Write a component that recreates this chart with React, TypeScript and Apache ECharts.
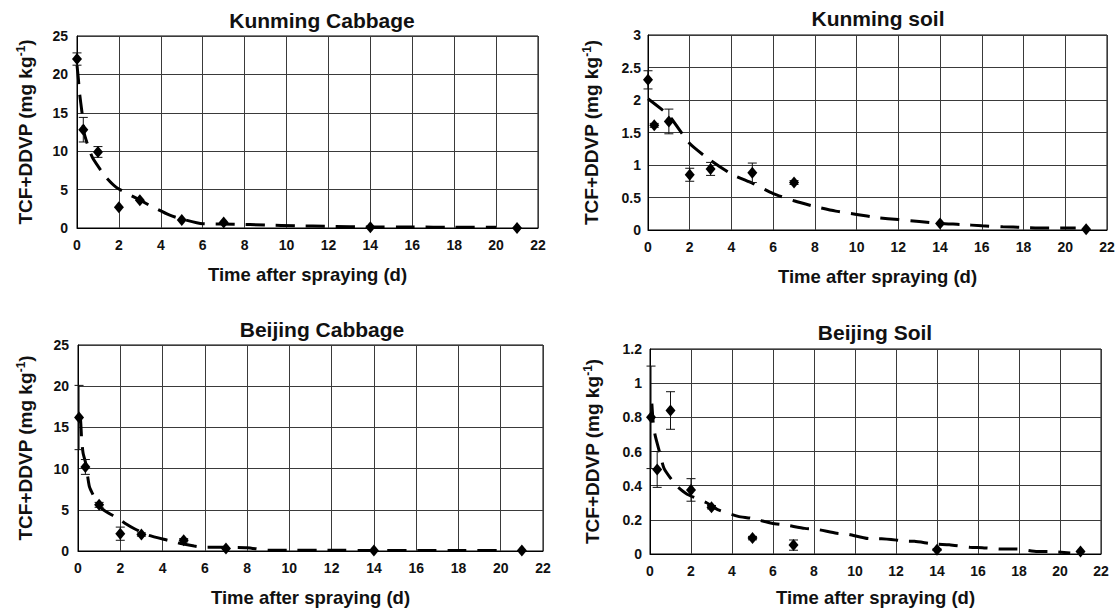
import React, { useEffect, useRef } from "react";
import * as echarts from "echarts";

// ---------- data ----------
const xTicks = [0, 2, 4, 6, 8, 10, 12, 14, 16, 18, 20, 22];

const panelTitles = ["Kunming Cabbage", "Kunming soil", "Beijing Cabbage", "Beijing Soil"];

// Kunming Cabbage
const kcDays = [0, 0.3, 1, 2, 3, 5, 7, 14, 21];
const kcMean = [22.0, 12.8, 9.9, 2.7, 3.6, 1.05, 0.7, 0.1, 0.0];
const kcErr = [0.8, 1.6, 0.7, 0, 0, 0, 0, 0, 0];
const kcFitX = [0, 0.07, 0.12, 0.24, 0.34, 0.5, 0.75, 1.4, 1.9, 3.1, 3.5, 4.4, 4.9, 6, 7.5, 9, 10.5, 12, 14, 16, 18, 20];
const kcFitY = [21.2, 19.3, 17.6, 15, 12.4, 10.9, 9.1, 6.55, 5.25, 3.5, 2.9, 1.7, 1.25, 0.55, 0.5, 0.4, 0.28, 0.22, 0.13, 0.13, 0.09, 0.09];

// Kunming soil
const ksDays = [0, 0.3, 1, 2, 3, 5, 7, 14, 21];
const ksMean = [2.31, 1.61, 1.67, 0.85, 0.94, 0.88, 0.73, 0.1, 0.01];
const ksErr = [0.14, 0.03, 0.19, 0.1, 0.1, 0.15, 0.03, 0, 0];
const ksFitX = [0, 1, 2, 3, 4, 5, 6, 7, 8, 9, 10, 11, 12, 13, 14, 15, 16, 17, 18, 19, 20, 20.5];
const ksFitY = [2.02, 1.76, 1.33, 1.07, 0.86, 0.72, 0.56, 0.45, 0.36, 0.29, 0.24, 0.19, 0.16, 0.13, 0.1, 0.085, 0.065, 0.05, 0.04, 0.03, 0.03, 0.03];

// Beijing Cabbage
const bcDays = [0.05, 0.35, 1, 2, 3, 5, 7, 14, 21];
const bcMean = [16.2, 10.2, 5.6, 2.1, 2.0, 1.3, 0.3, 0.05, 0.05];
const bcErr = [3.9, 0.9, 0.3, 0.8, 0.2, 0.2, 0, 0, 0];
const bcFitX = [0.05, 0.12, 0.17, 0.24, 0.37, 0.54, 0.8, 1.14, 1.77, 2.2, 2.67, 3.34, 4.24, 4.87, 5.5, 5.98, 6.66, 8, 9, 10, 12, 14, 16, 18, 20];
const bcFitY = [16.2, 15.9, 13.6, 11.9, 10.6, 7.8, 6.4, 5.1, 4.13, 3.4, 2.7, 1.9, 1.3, 0.9, 0.6, 0.45, 0.45, 0.4, 0.1, 0.1, 0.1, 0.05, 0.05, 0.05, 0.05];

// Beijing Soil
const bsDays = [0.05, 0.35, 1, 2, 3, 5, 7, 14, 21];
const bsMean = [0.8, 0.495, 0.84, 0.375, 0.274, 0.093, 0.052, 0.025, 0.015];
const bsErr = [0.3, 0.105, 0.11, 0.066, 0.01, 0.01, 0.03, 0.005, 0];
const bsFitX = [0.09, 0.17, 0.26, 0.48, 0.69, 1.29, 1.81, 2.76, 3.3, 4.3, 4.9, 5.95, 6.6, 7.55, 8.1, 9.1, 9.7, 10.7, 11.3, 12.4, 12.9, 13.9, 14.6, 15.6, 16.2, 17.2, 17.9, 18.9, 19.5, 20.5];
const bsFitY = [0.88, 0.75, 0.69, 0.59, 0.5, 0.4, 0.35, 0.3, 0.26, 0.22, 0.21, 0.18, 0.17, 0.15, 0.145, 0.122, 0.115, 0.09, 0.09, 0.076, 0.074, 0.058, 0.054, 0.039, 0.037, 0.029, 0.029, 0.014, 0.014, 0.006];

const yMax = [25, 3, 25, 1.2];
const yStep = [5, 0.5, 5, 0.2];

// ---------- layout ----------
const FONT = "'Liberation Sans', Arial, Helvetica, sans-serif";
const grids = [
  { left: 77, top: 36, width: 461, height: 192 },
  { left: 648, top: 35, width: 459, height: 195 },
  { left: 78, top: 345, width: 465, height: 206 },
  { left: 650, top: 349, width: 451, height: 205 },
];
const titlePos = [
  [322, 20],
  [878, 18.5],
  [322, 329],
  [875, 332.5],
];
const yNameGap = [40.5, 45.5, 41.5, 46.5];
const xNameGap = [37, 37, 37, 34];
const yLabelMargin = [9, 7, 9, 8];

const panels = [
  { days: kcDays, mean: kcMean, err: kcErr, fx: kcFitX, fy: kcFitY },
  { days: ksDays, mean: ksMean, err: ksErr, fx: ksFitX, fy: ksFitY },
  { days: bcDays, mean: bcMean, err: bcErr, fx: bcFitX, fy: bcFitY },
  { days: bsDays, mean: bsMean, err: bsErr, fx: bsFitX, fy: bsFitY },
];

function errorBarItem(params: any, api: any) {
  const x = api.value(0);
  const lo = api.value(1);
  const hi = api.value(2);
  const pHi = api.coord([x, hi]);
  const pLo = api.coord([x, lo]);
  const w = 4.5;
  const st = { stroke: "#111", lineWidth: 1 };
  return {
    type: "group",
    children: [
      { type: "line", shape: { x1: pHi[0], y1: pHi[1], x2: pLo[0], y2: pLo[1] }, style: st },
      { type: "line", shape: { x1: pHi[0] - w, y1: pHi[1], x2: pHi[0] + w, y2: pHi[1] }, style: st },
      { type: "line", shape: { x1: pLo[0] - w, y1: pLo[1], x2: pLo[0] + w, y2: pLo[1] }, style: st },
    ],
  };
}

function buildOption() {
  const xAxis: any[] = [];
  const yAxis: any[] = [];
  const series: any[] = [];
  const graphic: any[] = [];

  panels.forEach((p, i) => {
    xAxis.push({
      type: "value",
      gridIndex: i,
      min: xTicks[0],
      max: xTicks[xTicks.length - 1],
      interval: 2,
      axisLine: { show: true, lineStyle: { color: "#000", width: 1 } },
      axisTick: { show: false },
      splitLine: { show: true, lineStyle: { color: "#3a3a3a", width: 1 } },
      axisLabel: { color: "#111", fontFamily: FONT, fontWeight: "bold", fontSize: 14, margin: 10 },
      name: "Time after spraying (d)",
      nameLocation: "middle",
      nameGap: xNameGap[i],
      nameTextStyle: { color: "#111", fontFamily: FONT, fontWeight: "bold", fontSize: 18.5 },
    });
    yAxis.push({
      type: "value",
      gridIndex: i,
      min: 0,
      max: yMax[i],
      interval: yStep[i],
      axisLine: { show: true, lineStyle: { color: "#000", width: 1 } },
      axisTick: { show: false },
      splitLine: { show: true, lineStyle: { color: "#3a3a3a", width: 1 } },
      axisLabel: { color: "#111", fontFamily: FONT, fontWeight: "bold", fontSize: 14, margin: yLabelMargin[i] },
      name: "{a|TCF+DDVP (mg kg}{s|-1}{a|)}",
      nameLocation: "middle",
      nameRotate: 90,
      nameGap: yNameGap[i],
      nameTextStyle: {
        color: "#111",
        rich: {
          a: { fontFamily: FONT, fontWeight: "bold", fontSize: 19, lineHeight: 22, color: "#111" },
          s: { fontFamily: FONT, fontWeight: "bold", fontSize: 12, lineHeight: 12, verticalAlign: "top", color: "#111" },
        },
      },
    });

    series.push({
      type: "line",
      xAxisIndex: i,
      yAxisIndex: i,
      data: p.fx.map((x, k) => [x, p.fy[k]]),
      symbol: "none",
      smooth: 0.2,
      lineStyle: { color: "#000", width: 3, type: [19, 11] },
      z: 3,
    });
    series.push({
      type: "custom",
      xAxisIndex: i,
      yAxisIndex: i,
      renderItem: errorBarItem,
      encode: { x: 0, y: [1, 2] },
      data: p.days
        .map((d, k) => [d, p.mean[k] - p.err[k], p.mean[k] + p.err[k], p.err[k]])
        .filter((r) => r[3] > 0),
      z: 4,
    });
    series.push({
      type: "scatter",
      xAxisIndex: i,
      yAxisIndex: i,
      data: p.days.map((d, k) => [d, p.mean[k]]),
      symbol: "diamond",
      symbolSize: [10, 12],
      itemStyle: { color: "#000", opacity: 1 },
      z: 5,
    });

    graphic.push({
      type: "text",
      x: titlePos[i][0],
      y: titlePos[i][1],
      style: {
        text: panelTitles[i],
        font: `bold 21px ${FONT}`,
        fill: "#111",
        align: "center",
        verticalAlign: "middle",
      },
    });
  });

  return {
    animation: false,
    backgroundColor: "#fff",
    grid: grids.map((g) => ({ ...g, show: true, borderColor: "#000", borderWidth: 1, containLabel: false })),
    xAxis,
    yAxis,
    series,
    graphic,
  };
}

export default function App() {
  const ref = useRef<HTMLDivElement>(null);
  useEffect(() => {
    if (!ref.current) return;
    const chart = echarts.init(ref.current, undefined, { renderer: "svg" });
    chart.setOption(buildOption() as any);
    return () => chart.dispose();
  }, []);
  return (
    <div
      ref={ref}
      style={{ position: "fixed", left: 0, top: 0, width: 1118, height: 612, background: "#fff" }}
    />
  );
}
